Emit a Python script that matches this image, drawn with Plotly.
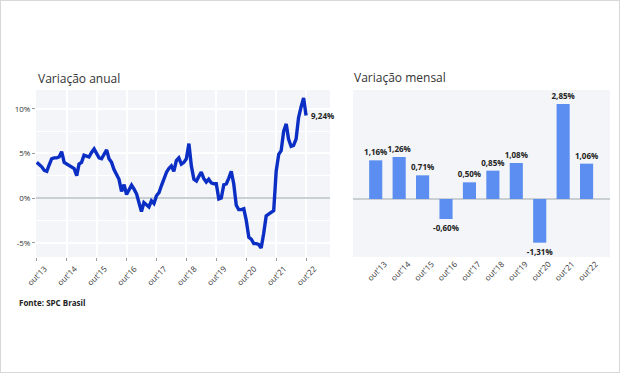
import pandas as pd
import plotly.graph_objects as go

# ---- data ----
annual_values = [
    4.0, 3.8, 3.5, 3.1, 3.0, 3.7, 4.4, 4.5, 4.5, 4.6, 5.2, 4.0,
    3.8, 3.6, 3.4, 3.3, 2.5, 3.8, 4.0, 4.8, 4.7, 4.6, 5.1, 5.5,
    5.0, 4.5, 4.4, 4.9, 5.4, 4.4, 4.0, 3.2, 2.6, 2.1, 0.75, 1.5,
    0.4, 0.9, 1.45, 1.0, 0.45, -0.5, -1.5, -0.5, -0.8, -1.0, -0.3, -0.6,
    0.26, 0.6, 1.4, 2.2, 2.9, 3.3, 3.6, 3.0, 4.2, 4.5, 3.8, 4.0,
    4.4, 6.1, 3.6, 2.1, 1.9, 2.4, 2.9, 2.2, 1.8, 2.1, 1.7, 1.6,
    1.6, -0.1, 0.0, 1.5, 1.6, 2.2, 3.0, 1.6, -0.8, -1.3, -1.3, -1.2,
    -2.5, -4.4, -4.6, -5.1, -5.1, -5.2, -5.6, -4.0, -2.0, -1.8, -1.6, -1.4,
    3.0, 4.9, 5.3, 7.5, 8.3, 6.6, 5.8, 5.9, 6.6, 9.0, 10.2, 11.2,
    9.24,
]
annual_start = "2013-10-01"
annual_label = "9,24%"

monthly_categories = ["out'13", "out'14", "out'15", "out'16", "out'17",
                      "out'18", "out'19", "out'20", "out'21", "out'22"]
monthly_values = [1.16, 1.26, 0.71, -0.60, 0.50, 0.85, 1.08, -1.31, 2.85, 1.06]
monthly_labels = ["1,16%", "1,26%", "0,71%", "-0,60%", "0,50%",
                  "0,85%", "1,08%", "-1,31%", "2,85%", "1,06%"]

year_ticks = [f"{y}-10-01" for y in range(2013, 2023)]
year_ticktext = monthly_categories
y_tickvals = [-5, 0, 5, 10]
y_ticktext = ["-5%", "0%", "5%", "10%"]

# ---- figure ----
dates = pd.date_range(annual_start, periods=len(annual_values), freq="MS")
W, H = 620, 373
FONT = "Open Sans"
BG = "#f3f5f8"
TXT = "#333333"

fig = go.Figure()
fig.add_trace(go.Scatter(
    x=dates, y=annual_values, mode="lines",
    line=dict(color="#0b2ec4", width=3.4),
    xaxis="x", yaxis="y", hoverinfo="skip", showlegend=False))

fig.add_trace(go.Bar(
    x=monthly_categories, y=monthly_values,
    text=[f"<b>{t}</b>" for t in monthly_labels],
    textposition="outside", cliponaxis=False, constraintext="none",
    textfont=dict(size=8, color="#222222", family=FONT),
    marker=dict(color="#5b8ef0", line=dict(width=0)),
    width=0.56, xaxis="x2", yaxis="y2", showlegend=False, hoverinfo="skip"))

def px_x(p):
    return p / W

def px_y(p):
    return 1 - p / H

fig.update_layout(
    width=W, height=H,
    margin=dict(l=0, r=0, t=0, b=0),
    paper_bgcolor="white",
    font=dict(family=FONT, color=TXT, size=8),
    xaxis=dict(
        domain=[px_x(36), px_x(330)], anchor="y",
        type="date", range=["2013-09-22", "2023-07-20"],
        tickvals=year_ticks, ticktext=year_ticktext, tickangle=-45,
        ticklabelshift=8,
        showgrid=True, gridcolor="white", gridwidth=1.5,
        ticks="outside", ticklen=3, tickcolor="#999999",
        showline=False, zeroline=False, automargin=False,
        tickfont=dict(size=8, color=TXT)),
    yaxis=dict(
        domain=[px_y(257), px_y(90)], anchor="x",
        range=[-6.6, 12.1],
        tickvals=y_tickvals, ticktext=y_ticktext,
        showgrid=True, gridcolor="white", gridwidth=1.5,
        minor=dict(dtick=2.5, tick0=0, showgrid=True, gridcolor="white", gridwidth=1),
        zeroline=True, zerolinecolor="#c9cfd3", zerolinewidth=1.5,
        ticks="outside", ticklen=3, tickcolor="#999999",
        automargin=False, tickfont=dict(size=8, color=TXT)),
    xaxis2=dict(
        domain=[px_x(353), px_x(610)], anchor="y2",
        type="category", range=[-0.97, 10.0],
        tickangle=-45, ticklabelshift=9,
        showgrid=False, ticks="", showline=False,
        automargin=False, tickfont=dict(size=8, color=TXT)),
    yaxis2=dict(
        domain=[px_y(257), px_y(90)], anchor="x2",
        range=[-1.74, 3.27], showticklabels=False, showgrid=False,
        zeroline=True, zerolinecolor="#c9cfd3", zerolinewidth=1.5,
        automargin=False),
    plot_bgcolor=BG,
    annotations=[
        dict(text="Variação anual", x=px_x(36), y=px_y(78), xref="paper", yref="paper",
             xanchor="left", yanchor="middle", showarrow=False,
             font=dict(size=12, color=TXT, family=FONT)),
        dict(text="Variação mensal", x=px_x(352), y=px_y(77), xref="paper", yref="paper",
             xanchor="left", yanchor="middle", showarrow=False,
             font=dict(size=12, color=TXT, family=FONT)),
        dict(text="<b>Fonte: SPC Brasil</b>", x=px_x(17), y=px_y(302), xref="paper", yref="paper",
             xanchor="left", yanchor="middle", showarrow=False,
             font=dict(size=8, color="#222222", family=FONT)),
        dict(text="<b>" + annual_label + "</b>", x=dates[-1], y=annual_values[-1], xref="x", yref="y",
             xanchor="left", yanchor="middle", xshift=3, showarrow=False,
             font=dict(size=8, color="#222222", family=FONT)),
    ],
    shapes=[
        dict(type="rect", xref="paper", yref="paper", x0=0, x1=1, y0=0, y1=1,
             line=dict(color="#d8d8d8", width=2), fillcolor="rgba(0,0,0,0)", layer="above"),
    ],
)

fig.write_html("out.html", config={"displayModeBar": False},
               post_script="document.body.style.margin='0';document.body.style.overflow='hidden';")
